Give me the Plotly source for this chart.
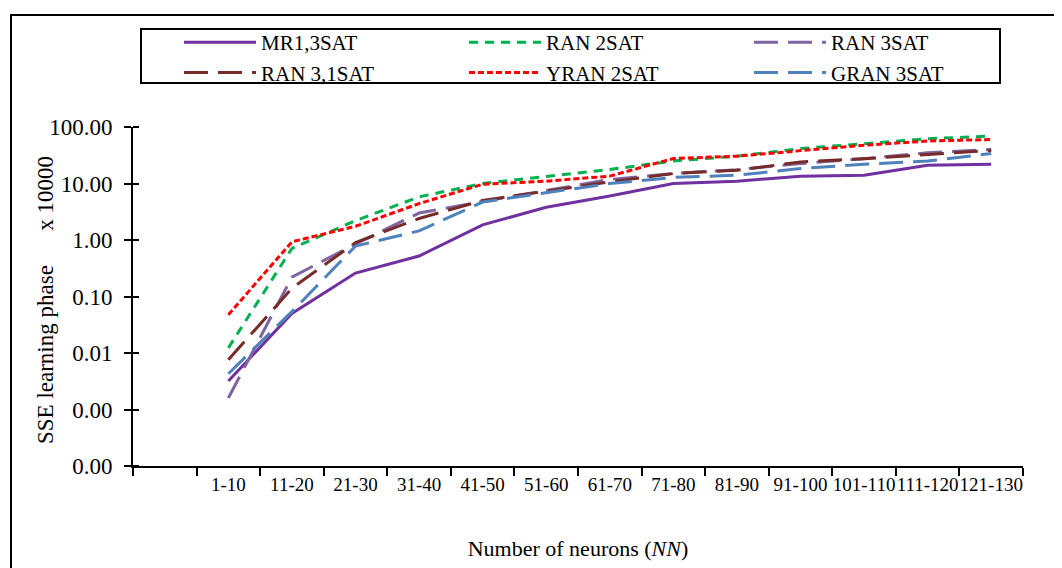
import plotly.graph_objects as go

# ---- data ----
categories = ["1-10", "11-20", "21-30", "31-40", "41-50", "51-60", "61-70",
              "71-80", "81-90", "91-100", "101-110", "111-120", "121-130"]
axis_categories = [" "] + categories  # first slot on the axis is empty

mr1_3sat   = [0.0032, 0.050, 0.26, 0.52, 1.85, 3.8, 6.0, 10.0, 11.0, 13.5, 14.0, 21.0, 22.0]
ran_2sat   = [0.0123, 0.71, 2.2, 5.8, 10.0, 13.5, 17.7, 25.0, 30.5, 41.5, 51.0, 62.0, 69.0]
ran_3sat   = [0.0016, 0.22, 0.85, 3.0, 4.8, 7.6, 11.8, 15.0, 17.6, 22.5, 27.5, 35.0, 40.0]
ran_31sat  = [0.0076, 0.14, 0.90, 2.4, 5.0, 7.4, 10.7, 15.0, 17.2, 24.0, 27.5, 32.5, 38.5]
yran_2sat  = [0.0475, 0.93, 1.75, 4.4, 9.7, 11.0, 13.5, 27.7, 30.5, 38.5, 47.5, 56.5, 60.0]
gran_3sat  = [0.0043, 0.054, 0.78, 1.45, 4.7, 6.8, 10.0, 12.8, 14.0, 18.4, 22.0, 25.0, 34.0]

series_names = ["MR1,3SAT", "RAN 2SAT", "RAN 3SAT", "RAN 3,1SAT", "YRAN 2SAT", "GRAN 3SAT"]
series_values = [mr1_3sat, ran_2sat, ran_3sat, ran_31sat, yran_2sat, gran_3sat]

y_tick_vals = [0.0001, 0.001, 0.01, 0.1, 1, 10, 100]
y_tick_text = ["0.00", "0.00", "0.01", "0.10", "1.00", "10.00", "100.00"]

# ---- styles ----
colors = ["#7030A0", "#00B050", "#8064A2", "#772C2A", "#FF0000", "#4F81BD"]
dashes = ["solid", "9px,7px", "24px,10px", "24px,10px", "6px,3px", "24px,10px"]

FONT = "Liberation Serif, Times New Roman, serif"

fig = go.Figure()
for name, vals, col, dsh in zip(series_names, series_values, colors, dashes):
    fig.add_trace(go.Scatter(
        x=categories, y=vals, name=name, mode="lines",
        line=dict(color=col, width=3, dash=dsh),
    ))

W, H = 1062, 568
OFF = 8  # page offset of the figure inside the browser window
# plot area in screen pixels: x 133..1023, y 127..466
L = 133 - OFF
T = 127 - OFF
pw, ph = 890, 339
R = W - L - pw
B = H - T - ph

def px_x(sx):
    return (sx - OFF - L) / pw

def px_y(sy):
    return (T + ph - (sy - OFF)) / ph

fig.update_layout(
    width=W, height=H,
    margin=dict(l=L, r=R, t=T, b=B, autoexpand=False),
    paper_bgcolor="white", plot_bgcolor="white",
    font=dict(family=FONT, size=20, color="black"),
    showlegend=True,
    legend=dict(
        orientation="h",
        x=px_x(179), y=px_y(22), xanchor="left", yanchor="top",
        entrywidth=198, entrywidthmode="pixels",
        itemwidth=72,
        font=dict(family=FONT, size=21, color="black"),
        bgcolor="rgba(0,0,0,0)", borderwidth=0,
        tracegroupgap=0,
    ),
    xaxis=dict(
        type="category",
        categoryorder="array", categoryarray=axis_categories,
        range=[-0.5, len(axis_categories) - 0.5],
        tickson="boundaries",
        ticks="outside", ticklen=8, tickwidth=1.5, tickcolor="black",
        tickangle=0,
        showline=True, linecolor="black", linewidth=2,
        showgrid=False, zeroline=False,
        tickfont=dict(family=FONT, size=19, color="black"),
        title=dict(text="Number of neurons (<i>NN</i>)",
                   font=dict(family=FONT, size=22, color="black"),
                   standoff=47),
        automargin=False,
    ),
    yaxis=dict(
        type="log",
        range=[-4, 2],
        tickmode="array", tickvals=y_tick_vals, ticktext=y_tick_text,
        ticks="outside", ticklen=7, tickwidth=1.5, tickcolor="black",
        ticklabelstandoff=7,
        minor=dict(ticks="inside", tickvals=y_tick_vals, ticklen=6,
                   tickwidth=1.5, tickcolor="black", showgrid=False),
        showline=True, linecolor="black", linewidth=2,
        showgrid=False, zeroline=False,
        tickfont=dict(family=FONT, size=23, color="black"),
        automargin=False,
    ),
    annotations=[dict(
        text="SSE learning phase" + "\u00a0" * 6 + "x 10000",
        xref="paper", yref="paper", x=px_x(45), y=px_y(300),
        xanchor="center", yanchor="middle", textangle=-90, showarrow=False,
        font=dict(family=FONT, size=23, color="black"),
    )],
    shapes=[
        # outer chart frame
        dict(type="rect", xref="paper", yref="paper",
             x0=px_x(11), x1=px_x(1090), y0=px_y(600), y1=px_y(15),
             line=dict(color="black", width=2), fillcolor="rgba(0,0,0,0)", layer="below"),
        # legend box
        dict(type="rect", xref="paper", yref="paper",
             x0=px_x(141), x1=px_x(1000), y0=px_y(83), y1=px_y(29),
             line=dict(color="black", width=2), fillcolor="rgba(0,0,0,0)", layer="below"),
    ],
)

fig.write_html("out.html")
